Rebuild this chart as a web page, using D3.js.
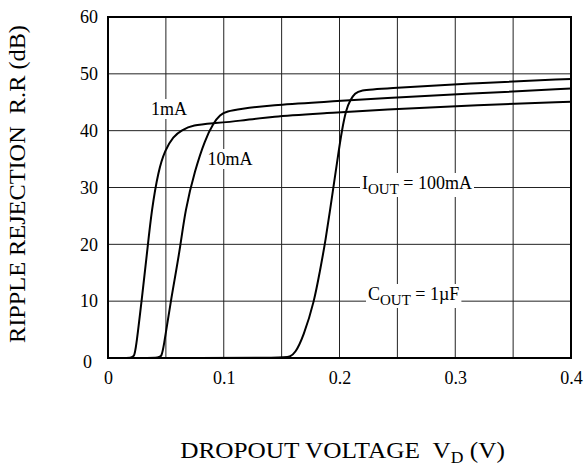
<!DOCTYPE html>
<html><head><meta charset="utf-8">
<script src="https://cdn.jsdelivr.net/npm/d3@7"></script>
<style>body{margin:0;background:#fff}svg{display:block}svg text{font-family:"Liberation Serif","Times New Roman",serif !important;fill:#000}</style>
</head><body><svg id="c" width="586" height="468"></svg>
<script>
const xTicks = [0, 0.1, 0.2, 0.3, 0.4];
const xGrid = [0.05, 0.1, 0.15, 0.2, 0.25, 0.3, 0.35];
const yTicks = [0, 10, 20, 30, 40, 50, 60];
const curve1mA = [[0,0],[0.01,0],[0.0205,0],[0.0225,0.3],[0.024,1.4],[0.029,10],[0.034,19],[0.0377,26],[0.0435,33],[0.0493,36.6],[0.0564,39],[0.0636,40.1],[0.0735,41],[0.09,41.3],[0.114,41.7],[0.14,42.5],[0.19,43.1],[0.235,43.7],[0.32,44.5],[0.4,45.1]];
const curve10mA = [[0,0],[0.02,0],[0.0445,0],[0.046,0.3],[0.0478,1.4],[0.0541,10],[0.0622,19],[0.0666,26],[0.0752,33.1],[0.0838,38.4],[0.091,41.3],[0.0968,42.8],[0.1026,43.4],[0.114,43.8],[0.14,44.5],[0.19,45.1],[0.235,45.7],[0.32,46.6],[0.4,47.4]];
const curve100mA = [[0,0],[0.08,0],[0.152,0],[0.157,0.2],[0.1616,0.8],[0.1688,3.75],[0.1783,10],[0.1832,15.5],[0.1875,20],[0.1947,30],[0.199,36],[0.202,40],[0.2057,43.7],[0.2092,45.4],[0.2135,46.6],[0.2178,47.1],[0.235,47.4],[0.32,48.4],[0.4,49.1]];
const series = [curve1mA, curve10mA, curve100mA];

const FONT = "Liberation Serif, Times New Roman, serif";
const svg = d3.select("#c").attr("font-family", FONT);
const L = 108, R = 571, T = 17, B = 358;
const x = d3.scaleLinear().domain([0, 0.4]).range([L, R]);
const y = d3.scaleLinear().domain([0, 60]).range([B, T]);

// grid
svg.append("g").selectAll("line").data(xGrid).join("line")
  .attr("x1", d => x(d)).attr("x2", d => x(d)).attr("y1", T).attr("y2", B)
  .attr("stroke", "#222").attr("stroke-width", 1);
svg.append("g").selectAll("line").data(yTicks.slice(1, -1)).join("line")
  .attr("x1", L).attr("x2", R).attr("y1", d => y(d)).attr("y2", d => y(d))
  .attr("stroke", "#222").attr("stroke-width", 1);

// labels with white backgrounds (drawn before curves)
const labG = svg.append("g");
function label(xp, yp, parts, anchor) {
  const t = labG.append("text").attr("x", xp).attr("y", yp).attr("font-size", 18).attr("text-anchor", anchor || "start");
  parts.forEach(p => {
    const ts = t.append("tspan").text(p.t);
    if (p.sub) ts.attr("font-size", 15).attr("dy", 5);
    if (p.back) ts.attr("dy", -5);
  });
  const bb = t.node().getBBox();
  labG.insert("rect", "text").attr("x", bb.x - 2).attr("y", bb.y).attr("width", bb.width + 4).attr("height", bb.height).attr("fill", "#fff");
}
label(169, 115, [{t: "1mA"}], "middle");
label(230, 165, [{t: "10mA"}], "middle");
label(362, 189, [{t: "I"}, {t: "OUT", sub: true}, {t: " = 100mA", back: true}]);
label(368, 300, [{t: "C"}, {t: "OUT", sub: true}, {t: " = 1\u00b5F", back: true}]);

// frame
svg.append("rect").attr("x", L).attr("y", T).attr("width", R - L).attr("height", B - T)
  .attr("fill", "none").attr("stroke", "#000").attr("stroke-width", 2);

// curves
const line = d3.line().x(d => x(d[0])).y(d => y(d[1])).curve(d3.curveBasis);
svg.append("g").selectAll("path").data(series).join("path")
  .attr("d", line).attr("fill", "none").attr("stroke", "#000").attr("stroke-width", 2);

// axes
const xAxis = svg.append("g").attr("transform", `translate(0,${B})`)
  .call(d3.axisBottom(x).tickValues(xTicks).tickSize(0).tickPadding(13).tickFormat(d => d === 0 ? "0" : d3.format(".1f")(d)));
xAxis.attr("font-family", FONT);
xAxis.select(".domain").remove();
xAxis.selectAll("text").attr("font-size", 18).attr("fill", "#000");
const yAxis = svg.append("g").attr("transform", `translate(${L},0)`)
  .call(d3.axisLeft(y).tickValues(yTicks).tickSize(0).tickPadding(10));
yAxis.attr("font-family", FONT);
yAxis.select(".domain").remove();
yAxis.selectAll("text").attr("font-size", 18).attr("fill", "#000");
yAxis.selectAll(".tick").filter(d => d === 0).select("text").attr("dx", -6).attr("dy", "0.55em");

// axis titles (stretched horizontally to match reference width)
const yt = svg.append("text").attr("text-anchor", "middle").attr("font-size", 23).style("white-space", "pre")
  .text("RIPPLE REJECTION\u00a0\u00a0R.R (dB)");
const yw = yt.node().getBBox().width;
yt.attr("transform", `translate(25,184) rotate(-90) scale(${318 / yw},1)`);
const xt = svg.append("text").attr("text-anchor", "middle").attr("font-size", 23).style("white-space", "pre");
xt.append("tspan").text("DROPOUT VOLTAGE\u00a0\u00a0V");
xt.append("tspan").attr("font-size", 16).attr("dy", 5).text("D");
xt.append("tspan").attr("dy", -5).text(" (V)");
const xw = xt.node().getBBox().width;
xt.attr("transform", `translate(342.5,458) scale(${325 / xw},1)`);
</script></body></html>
